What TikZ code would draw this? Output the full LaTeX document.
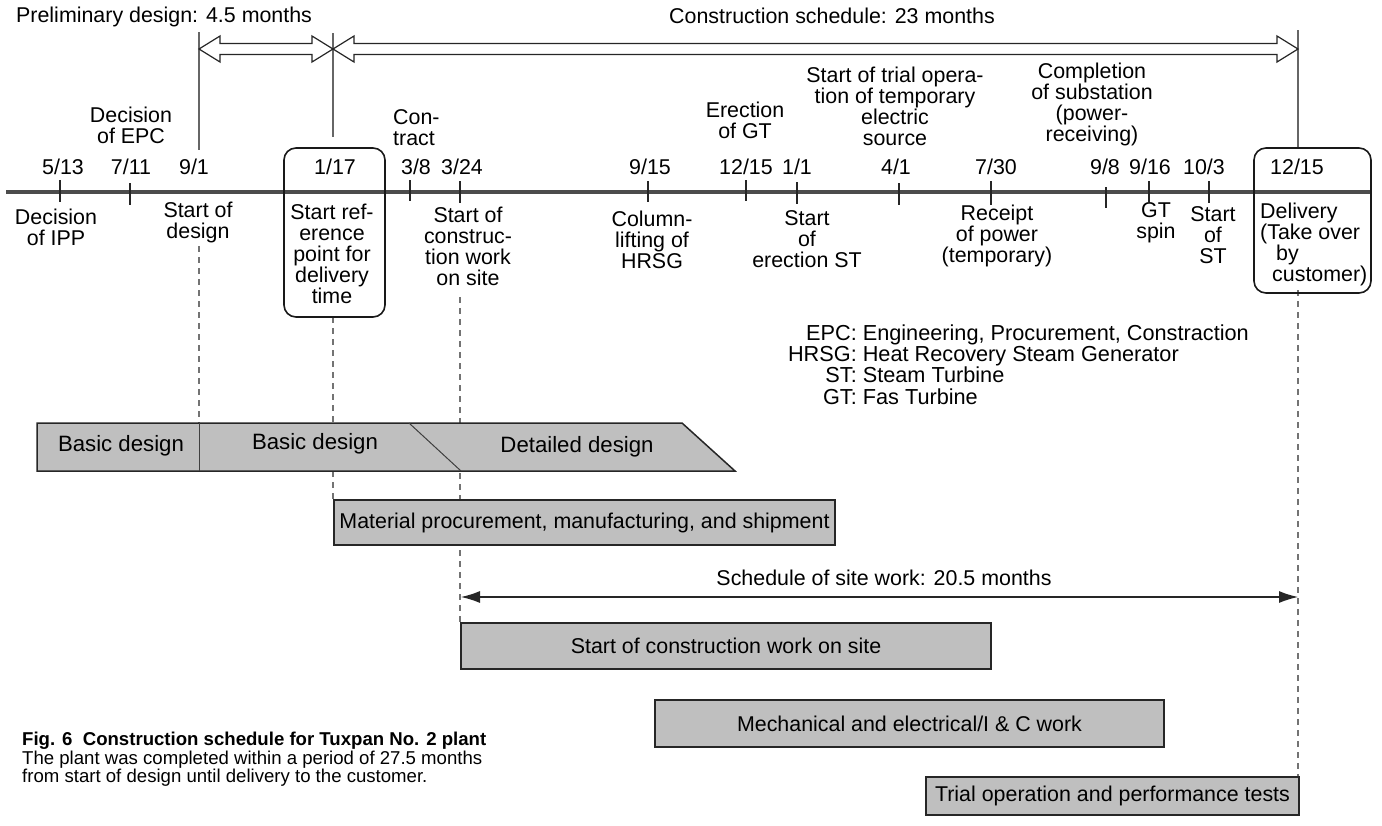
\documentclass[tikz,border=0pt]{standalone}
\usepackage{fontspec}
\setmainfont{Liberation Sans}
\usetikzlibrary{calc,arrows.meta}
\begin{document}
\begin{tikzpicture}[x=1pt,y=-1pt,
 lbl/.style={align=center,inner sep=0pt,text=black,font=\fontsize{21.4}{21}\selectfont},
 datelbl/.style={inner sep=0pt,text=black,font=\fontsize{21.4}{21}\selectfont},
 tickline/.style={line width=1.3pt,draw=black!85},
 guide/.style={line width=1.1pt,draw=black!60},
 dguide/.style={line width=1.1pt,draw=black!55,dash pattern=on 6pt off 5pt},
 bar/.style={draw=black!85,line width=1.5pt,fill=black!25},
 barlbl/.style={inner sep=0pt,text=black,font=\fontsize{21.4}{21}\selectfont},
 dbarlbl/.style={inner sep=0pt,text=black,font=\fontsize{22.2}{21}\selectfont},
 rbox/.style={draw=black!90,line width=1.6pt,rounded corners=12pt},
 hollow/.style={draw=black!85,line width=1.2pt,fill=white},
 sitearrow/.style={line width=1.2pt,draw=black!85,{Latex[length=19pt,width=12pt]}-{Latex[length=19pt,width=12pt]}},
]
\useasboundingbox (0,0) rectangle (1382,825);

% ---------- titles
\node[datelbl,anchor=west] (tprel) at (16,17) {Preliminary design: 4.5 months};
\node[datelbl] (tcons) at (832,16) {Construction schedule: 23 months};

% ---------- vertical solid guides
\coordinate (g91a) at (199,32);  \coordinate (g91b) at (199,150);
\coordinate (g117a) at (333,33); \coordinate (g117b) at (333,137);
\coordinate (g1215a) at (1298,30); \coordinate (g1215b) at (1298,148);
\draw[guide] (g91a) -- (g91b);
\draw[guide] (g117a) -- (g117b);
\draw[guide] (g1215a) -- (g1215b);

% ---------- dashed guides
\coordinate (d91a) at (199,246);  \coordinate (d91b) at (199,423);
\coordinate (d117a) at (333,317); \coordinate (d117b) at (333,500);
\coordinate (d324a) at (460,297); \coordinate (d324b) at (460,623);
\coordinate (d1215a) at (1298,290); \coordinate (d1215b) at (1298,777);
\draw[dguide] (d91a) -- (d91b);
\draw[dguide] (d117a) -- (d117b);
\draw[dguide] (d324a) -- (d324b);
\draw[dguide] (d1215a) -- (d1215b);

% ---------- hollow double arrows
\coordinate (ha) at (199,49);
\coordinate (hb) at (333,49);
\coordinate (hc) at (1298,49);
\draw[hollow] (ha) -- ($(ha)+(21,-13)$) -- ($(ha)+(21,-5.5)$) -- ($(hb)+(-21,-5.5)$) -- ($(hb)+(-21,-13)$)
  -- (hb) -- ($(hb)+(-21,13)$) -- ($(hb)+(-21,5.5)$) -- ($(ha)+(21,5.5)$) -- ($(ha)+(21,13)$) -- cycle;
\draw[hollow] (hb) -- ($(hb)+(21,-13)$) -- ($(hb)+(21,-5.5)$) -- ($(hc)+(-21,-5.5)$) -- ($(hc)+(-21,-13)$)
  -- (hc) -- ($(hc)+(-21,13)$) -- ($(hc)+(-21,5.5)$) -- ($(hb)+(21,5.5)$) -- ($(hb)+(21,13)$) -- cycle;

% ---------- main time line
\coordinate (tlL) at (6,192);
\coordinate (tlR) at (1371,192);
\draw[line width=3.6pt,draw=black!70] (tlL) -- (tlR);

% ---------- ticks
\foreach \x/\a/\b in {60/180/202,130/183/205,410/180/201,460/181/203,648/181/202,746/180/201,797/182/204,899/183/205,991/181/205,1106/187/208,1149/181/202,1209/181/203}
  \draw[tickline] (\x,\a) -- (\x,\b);

% ---------- rounded boxes
\node[rbox,minimum width=101pt,minimum height=169pt,inner sep=0pt] (box117) at (334.5,232.5) {};
\node[rbox,minimum width=117pt,minimum height=145pt,inner sep=0pt] (box1215) at (1312.5,220.5) {};

% ---------- dates
\node[datelbl] (d1) at (63,167) {5/13};
\node[datelbl] (d2) at (131,167) {7/11};
\node[datelbl] (d3) at (194,167) {9/1};
\node[datelbl] (d4) at (335,167) {1/17};
\node[datelbl] (d5) at (416,167) {3/8};
\node[datelbl] (d6) at (462,167) {3/24};
\node[datelbl] (d7) at (650,167) {9/15};
\node[datelbl] (d8) at (746,167) {12/15};
\node[datelbl] (d9) at (797,167) {1/1};
\node[datelbl] (d10) at (896,167) {4/1};
\node[datelbl] (d11) at (996,167) {7/30};
\node[datelbl] (d12) at (1105,167) {9/8};
\node[datelbl] (d13) at (1150,167) {9/16};
\node[datelbl] (d14) at (1204,167) {10/3};
\node[datelbl] (d15) at (1297,167) {12/15};

% ---------- labels above the line
\node[lbl] (uEPC) at (131,125.5) {Decision\\of EPC};
\node[lbl,anchor=west,align=left] (uCon) at (393,127.5) {Con-\\tract};
\node[lbl] (uGT) at (745,120) {Erection\\of GT};
\node[lbl] (uTrial) at (895,106.5) {Start of trial opera-\\tion of temporary\\electric\\source};
\node[lbl] (uSub) at (1092,104.5) {Completion\\of substation\\(power-\hspace*{36pt}\\receiving)};

% ---------- labels below the line
\node[lbl] (lIPP) at (56,227) {Decision\\of IPP};
\node[lbl] (lDes) at (198,222.5) {Start of\\design};
\node[lbl] (lRef) at (332,253.5) {Start ref-\\erence\\point for\\delivery\\time};
\node[lbl] (lSite) at (468,246) {Start of\\construc-\\tion work\\on site};
\node[lbl] (lHRSG) at (652,239.5) {Column-\\lifting of\\HRSG};
\node[lbl] (lST) at (807,239.5) {Start\\of\\erection ST};
\node[lbl] (lRec) at (997,235.5) {Receipt\\of power\\(temporary)};
\node[lbl] (lSpin) at (1156,223) {GT\\spin};
\node[lbl] (lSST) at (1213,235.5) {Start\\of\\ST};
\node[lbl,align=left,anchor=north west] (lDel) at (1260,203) {Delivery\\(Take over\\\hspace*{16pt}by\\\hspace*{12pt}customer)};

% ---------- legend
\node[inner sep=0pt,anchor=east,text=black,font=\fontsize{21.7}{19.7}\selectfont] (legend) at (1249,367.5)
 {\begin{tabular}{@{}r@{\ }l@{}}
 EPC:&Engineering, Procurement, Constraction\\
 HRSG:&Heat Recovery Steam Generator\\
 ST:&Steam Turbine\\
 GT:&Fas Turbine
 \end{tabular}};

% ---------- design bar
\coordinate (b1) at (37,423);
\coordinate (b2) at (682,423);
\coordinate (b3) at (735,471);
\coordinate (b4) at (37,471);
\draw[bar] (b1) -- (b2) -- (b3) -- (b4) -- cycle;
\coordinate (dv1) at (199,423); \coordinate (dv2) at (199,471);
\coordinate (sl1) at (409,423); \coordinate (sl2) at (461,471);
\draw[line width=1pt,draw=black!75] (dv1) -- (dv2);
\draw[line width=1pt,draw=black!75] (sl1) -- (sl2);
\node[dbarlbl] (bd1) at (121,446) {Basic design};
\node[dbarlbl] (bd2) at (315,444) {Basic design};
\node[dbarlbl] (bd3) at (577,447) {Detailed design};

% ---------- other bars
\node[bar,barlbl,minimum width=501pt,minimum height=45pt] (mat) at (584.5,522.5) {Material procurement, manufacturing, and shipment};
\node[bar,barlbl,minimum width=530pt,minimum height=46pt] (site) at (726,646) {Start of construction work on site};
\node[bar,barlbl,minimum width=509pt,minimum height=47pt] (mech) at (909.5,723.5) {Mechanical and electrical/I \& C work};
\node[bar,barlbl,minimum width=373pt,minimum height=38pt] (trial) at (1112.5,796) {Trial operation and performance tests};

% ---------- site work arrow
\coordinate (sa) at (461,597);
\coordinate (sb) at (1298,597);
\draw[sitearrow] (sa) -- (sb);
\node[datelbl] (sitelbl) at (884,578) {Schedule of site work: 20.5 months};

% ---------- caption
\node[inner sep=0pt,anchor=north west,align=left,text=black,font=\fontsize{18.6}{16}\selectfont] (caption) at (22,732)
 {\textbf{Fig. 6\ \ Construction schedule for Tuxpan No. 2 plant}\\
 The plant was completed within a period of 27.5 months\\
 from start of design until delivery to the customer.};
\end{tikzpicture}
\end{document}
